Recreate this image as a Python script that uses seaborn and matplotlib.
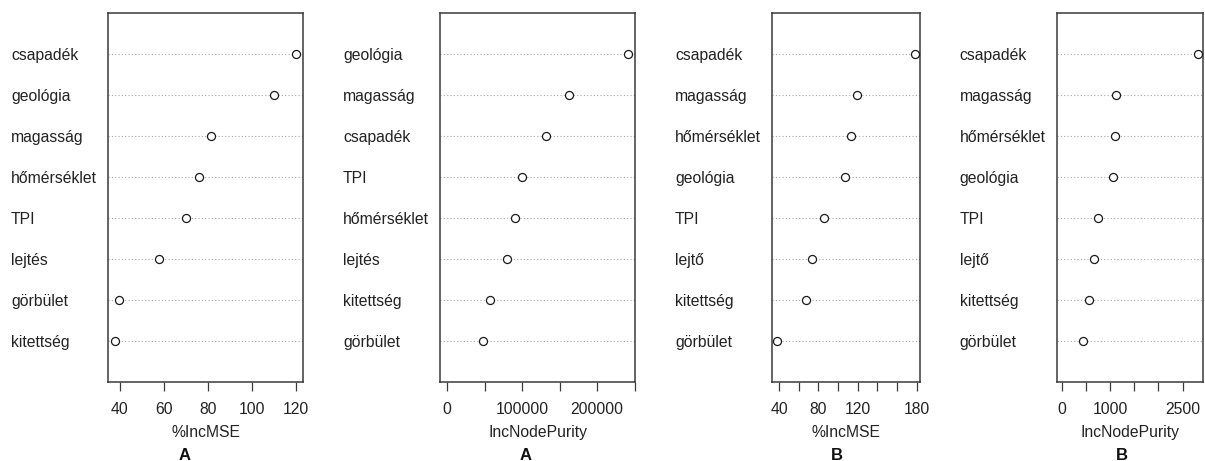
import matplotlib
matplotlib.use("Agg")
import matplotlib.pyplot as plt
import seaborn as sns

# ---------------- data ----------------
cats_a_mse = ["csapadék", "geológia", "magasság", "hőmérséklet", "TPI", "lejtés", "görbület", "kitettség"]
vals_a_mse = [120.0, 110.0, 81.4, 76.2, 70.3, 58.0, 39.7, 37.9]

cats_a_np = ["geológia", "magasság", "csapadék", "TPI", "hőmérséklet", "lejtés", "kitettség", "görbület"]
vals_a_np = [241000, 163000, 131500, 100000, 90700, 79600, 57300, 48000]

cats_b_mse = ["csapadék", "magasság", "hőmérséklet", "geológia", "TPI", "lejtő", "kitettség", "görbület"]
vals_b_mse = [177.8, 119.7, 113.5, 107.0, 86.0, 73.0, 67.8, 38.3]

cats_b_np = ["csapadék", "magasság", "hőmérséklet", "geológia", "TPI", "lejtő", "kitettség", "görbület"]
vals_b_np = [2811, 1123, 1103, 1056, 747, 658, 556, 424]

ticks_a_mse = [40, 60, 80, 100, 120]
ticklabels_a_mse = ["40", "60", "80", "100", "120"]
ticks_a_np = [0, 50000, 100000, 150000, 200000, 250000]
ticklabels_a_np = ["0", "", "100000", "", "200000", ""]
ticks_b_mse = [40, 60, 80, 100, 120, 140, 160, 180]
ticklabels_b_mse = ["40", "", "80", "", "120", "", "", "180"]
ticks_b_np = [0, 500, 1000, 1500, 2000, 2500]
ticklabels_b_np = ["0", "", "1000", "", "", "2500"]

xlabels = ["%IncMSE", "IncNodePurity", "%IncMSE", "IncNodePurity"]
panel_letters = ["A", "A", "B", "B"]

# ---------------- style ----------------
sns.set_style("white")
plt.rcParams["font.family"] = ["Liberation Sans", "DejaVu Sans"]
FS = 11.3
TXT = "#222222"
FRAME = "#3a3a3a"

W, H = 1205, 461
fig = plt.figure(figsize=(W / 100, H / 100), dpi=100)

bottom = 1 - 382 / H
height = 369 / H
boxes = [(108, 303), (440, 635), (772, 920), (1056.7, 1203)]
letter_x = [185, 526, 837, 1122]

panels = [
    (cats_a_mse, vals_a_mse, ticks_a_mse, ticklabels_a_mse, False),
    (cats_a_np, vals_a_np, ticks_a_np, ticklabels_a_np, True),
    (cats_b_mse, vals_b_mse, ticks_b_mse, ticklabels_b_mse, False),
    (cats_b_np, vals_b_np, ticks_b_np, ticklabels_b_np, True),
]

for i, ((cats, vals, ticks, tlabels, from_zero), (l, r)) in enumerate(zip(panels, boxes)):
    ax = fig.add_axes([l / W, bottom, (r - l) / W, height])
    sns.stripplot(x=vals, y=cats, orient="h", jitter=False, ax=ax,
                  color="white", edgecolor="#1a1a1a", linewidth=0.9, size=5.8, zorder=3)
    lo = 0 if from_zero else min(vals)
    hi = max(vals)
    pad = 0.04 * (hi - lo)
    ax.set_xlim(lo - pad, hi + pad)
    ax.set_ylim(len(cats), -1)
    ax.set_axisbelow(True)
    ax.yaxis.grid(True, linestyle=(0, (1, 2)), color="#a8a8a8", linewidth=0.8)
    ax.xaxis.grid(False)
    ax.set_xticks(ticks)
    ax.set_xticklabels(tlabels)
    ax.tick_params(axis="x", direction="out", length=6.5, width=0.9, color=FRAME,
                   labelsize=FS, labelcolor=TXT, pad=8, bottom=True)
    ax.tick_params(axis="y", length=0, pad=69.8, labelsize=FS, labelcolor=TXT)
    for lab in ax.get_yticklabels():
        lab.set_horizontalalignment("left")
    for sp in ax.spines.values():
        sp.set_visible(True)
        sp.set_color(FRAME)
        sp.set_linewidth(1.1)
    ax.set_xlabel(xlabels[i], fontsize=FS, color=TXT, labelpad=5.5)
    ax.set_ylabel("")
    fig.text(letter_x[i] / W, 1.5 / H, panel_letters[i], ha="center", va="baseline",
             fontsize=FS + 0.7, fontweight="bold", color="#111111")

fig.savefig("out.png", dpi=100, facecolor="white")
